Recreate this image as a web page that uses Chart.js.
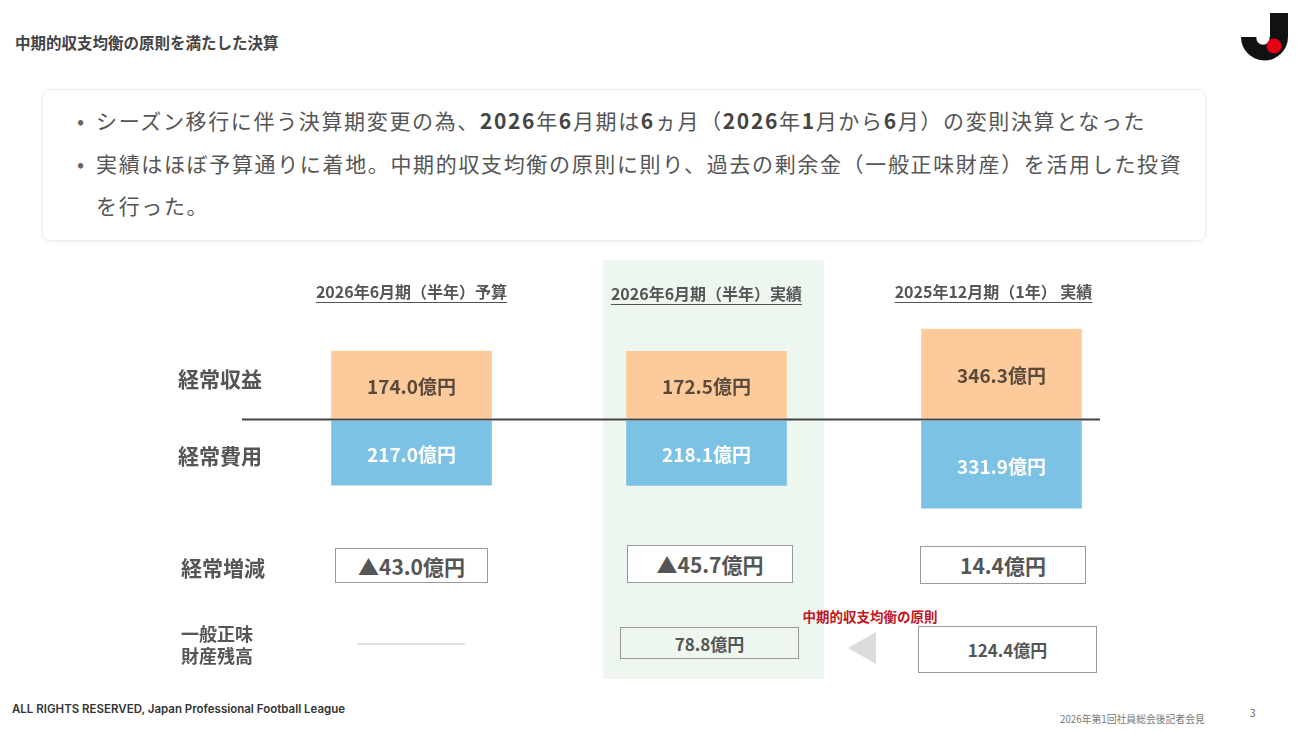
<!DOCTYPE html>
<html lang="ja">
<head>
<meta charset="utf-8">
<script src="https://cdn.jsdelivr.net/npm/chart.js@4.4.1/dist/chart.umd.min.js"></script>
<style>
  body { margin: 0; width: 1300px; height: 732px; position: relative; overflow: hidden; background: #fff;
         font-family: "Noto Sans CJK JP", "Noto Sans", sans-serif; color: #555; }
  .abs { position: absolute; }
  .title { left: 15px; top: 31px; font-size: 15.5px; font-weight: 700; color: #444; }
  .note { left: 42px; top: 89px; width: 1162px; height: 150px; border: 1px solid #ececec; border-radius: 8px;
          box-shadow: 0 1px 4px rgba(0,0,0,0.06); }
  .note p { margin: 0; position: relative; padding-left: 53px; font-size: 21px; letter-spacing: 1.65px;
            line-height: 42.5px; white-space: nowrap; color: #555; }
  .note p:first-child { margin-top: 9px; }
  .note p::before { content: "•"; position: absolute; left: 34px; color: #666; letter-spacing: 0; }
  .note b { color: #444; }
  .panel { left: 603px; top: 260px; width: 221px; height: 419px; background: #eef6f0; }
  .head { font-size: 16px; font-weight: 700; color: #555; text-decoration: underline; text-underline-offset: 4px;
          white-space: nowrap; transform: translate(-50%, -50%); }
  .rowlab { left: 178px; font-size: 21px; font-weight: 700; color: #555; transform: translateY(-50%); }
  .rowlab.small { font-size: 18px; line-height: 22px; left: 181px; }
  .box { border: 1px solid #9a9a9a; background: #fff; display: flex; align-items: center; justify-content: center;
         font-weight: 700; color: #555; box-sizing: border-box; white-space: nowrap; }
  .box.clear { background: transparent; }
  .dash { left: 357px; top: 643px; width: 108px; height: 2px; background: #e2e2e2; }
  .principle { left: 870px; top: 616px; transform: translate(-50%, -50%); font-size: 13.5px; font-weight: 700; color: #c0161c; white-space: nowrap; }
  .arrow { left: 848px; top: 632px; width: 0; height: 0; border-top: 16px solid transparent; border-bottom: 16px solid transparent;
           border-right: 28px solid #dcdcdc; }
  .foot { left: 12px; top: 702px; font-family: Inter, "Noto Sans", sans-serif; font-size: 11.5px; font-weight: 600; color: #333; }
  .meet { left: 1060px; top: 712px; font-size: 9.8px; color: #777; }
  .page { left: 1250px; top: 705px; font-size: 10px; color: #666; }
  canvas { position: absolute; left: 0; top: 255px; }
</style>
</head>
<body>
<div class="abs title">中期的収支均衡の原則を満たした決算</div>
<svg class="abs" style="left:1236px;top:8px" width="60" height="60" viewBox="1236 8 60 60">
  <path d="M1241 37 A23.5 23.5 0 0 0 1288 37 V13 H1270 V37 Z" fill="#111"/>
  <circle cx="1263" cy="38" r="6.7" fill="#fff"/>
  <circle cx="1274" cy="46" r="7.5" fill="#e60012"/>
</svg>

<div class="abs note">
  <p>シーズン移行に伴う決算期変更の為、<b>2026</b>年<b>6</b>月期は<b>6</b>ヵ月（<b>2026</b>年<b>1</b>月から<b>6</b>月）の変則決算となった</p>
  <p>実績はほぼ予算通りに着地。中期的収支均衡の原則に則り、過去の剰余金（一般正味財産）を活用した投資<br>を行った。</p>
</div>

<div class="abs panel"></div>
<canvas id="plChart" width="1300" height="270"></canvas>
<div id="overlay"></div>

<div class="abs rowlab" style="top:378px">経常収益</div>
<div class="abs rowlab" style="top:455px">経常費用</div>
<div class="abs rowlab" style="top:567px;left:181px">経常増減</div>
<div class="abs rowlab small" style="top:644px">一般正味<br>財産残高</div>

<div class="abs dash"></div>
<div class="abs principle">中期的収支均衡の原則</div>
<div class="abs arrow"></div>

<div class="abs foot">ALL RIGHTS RESERVED, Japan Professional Football League</div>
<div class="abs meet">2026年第1回社員総会後記者会見</div>
<div class="abs page">3</div>

<script>
// === データ（億円） ===
const periods = ['2026年6月期（半年）予算', '2026年6月期（半年）実績', '2025年12月期（1年） 実績'];
const revenue = [174.0, 172.5, 346.3];     // 経常収益
const expenses = [217.0, 218.1, 331.9];    // 経常費用
const balance = [-43.0, -45.7, 14.4];      // 経常増減
const netAssets = [null, 78.8, 124.4];     // 一般正味財産残高

// bars grow from these base values (log scales, axes hidden)
const REV_BASE = 21.5;
const EXP_BASE = 66.4;

const fmt = v => (v < 0 ? '▲' + Math.abs(v).toFixed(1) : v.toFixed(1)) + '億円';

// === ラベル・基準線 ===
const barLabels = {
  id: 'barLabels',
  afterDatasetsDraw(chart) {
    const ctx = chart.ctx;
    ctx.save();
    ctx.font = 'bold 19px "Noto Sans CJK JP"';
    ctx.textAlign = 'center';
    ctx.textBaseline = 'middle';
    chart.data.datasets.forEach((ds, di) => {
      chart.getDatasetMeta(di).data.forEach((bar, i) => {
        ctx.fillStyle = di === 0 ? '#5a4a3c' : '#ffffff';
        ctx.fillText(fmt(ds.data[i]), bar.x, (bar.y + bar.base) / 2 + 2);
      });
    });
    const y = (chart.scales.yRev.getPixelForValue(REV_BASE) + chart.scales.yExp.getPixelForValue(EXP_BASE)) / 2;
    ctx.strokeStyle = '#444';
    ctx.lineWidth = 2;
    ctx.beginPath();
    ctx.moveTo(242, y);
    ctx.lineTo(1100, y);
    ctx.stroke();
    ctx.restore();
  }
};

const chart = new Chart(document.getElementById('plChart'), {
  type: 'bar',
  data: {
    labels: periods,
    datasets: [
      { label: '経常収益', data: revenue, yAxisID: 'yRev', base: REV_BASE, grouped: false,
        backgroundColor: '#fdcb9b', barThickness: 160 },
      { label: '経常費用', data: expenses, yAxisID: 'yExp', base: EXP_BASE, grouped: false,
        backgroundColor: '#7bc2e4', barThickness: 160 }
    ]
  },
  options: {
    responsive: false,
    animation: false,
    layout: { padding: { left: 264, right: 151, top: 0, bottom: 0 } },
    plugins: { legend: { display: false }, tooltip: { enabled: false } },
    scales: {
      x: { display: false },
      yRev: { type: 'logarithmic', display: false, min: 0.76, max: 3505 },
      yExp: { type: 'logarithmic', display: false, reverse: true, min: 3.09, max: 454 }
    }
  },
  plugins: [barLabels]
});

// === 見出し・下段の枠 ===
const overlay = document.getElementById('overlay');
const xs = chart.scales.x;
const headTops = [291, 293, 291];
const headShift = [0, 0, -8];
periods.forEach((p, i) => {
  const d = document.createElement('div');
  d.className = 'abs head';
  d.style.left = (xs.getPixelForValue(i) + headShift[i]) + 'px';
  d.style.top = headTops[i] + 'px';
  d.textContent = p;
  overlay.appendChild(d);
});

const balanceBoxes = [
  { left: 335, top: 548, w: 153, h: 35 },
  { left: 627, top: 545, w: 166, h: 38 },
  { left: 920, top: 546, w: 166, h: 38 }
];
balance.forEach((v, i) => {
  const b = balanceBoxes[i];
  const d = document.createElement('div');
  d.className = 'abs box';
  Object.assign(d.style, { left: b.left + 'px', top: b.top + 'px', width: b.w + 'px', height: b.h + 'px', fontSize: '21px' });
  d.textContent = fmt(v);
  overlay.appendChild(d);
});

const assetBoxes = [
  null,
  { left: 620, top: 627, w: 179, h: 32, clear: true },
  { left: 918, top: 626, w: 179, h: 47 }
];
netAssets.forEach((v, i) => {
  if (v === null) return;
  const b = assetBoxes[i];
  const d = document.createElement('div');
  d.className = 'abs box' + (b.clear ? ' clear' : '');
  Object.assign(d.style, { left: b.left + 'px', top: b.top + 'px', width: b.w + 'px', height: b.h + 'px', fontSize: '17px' });
  d.textContent = fmt(v);
  overlay.appendChild(d);
});
</script>
</body>
</html>
